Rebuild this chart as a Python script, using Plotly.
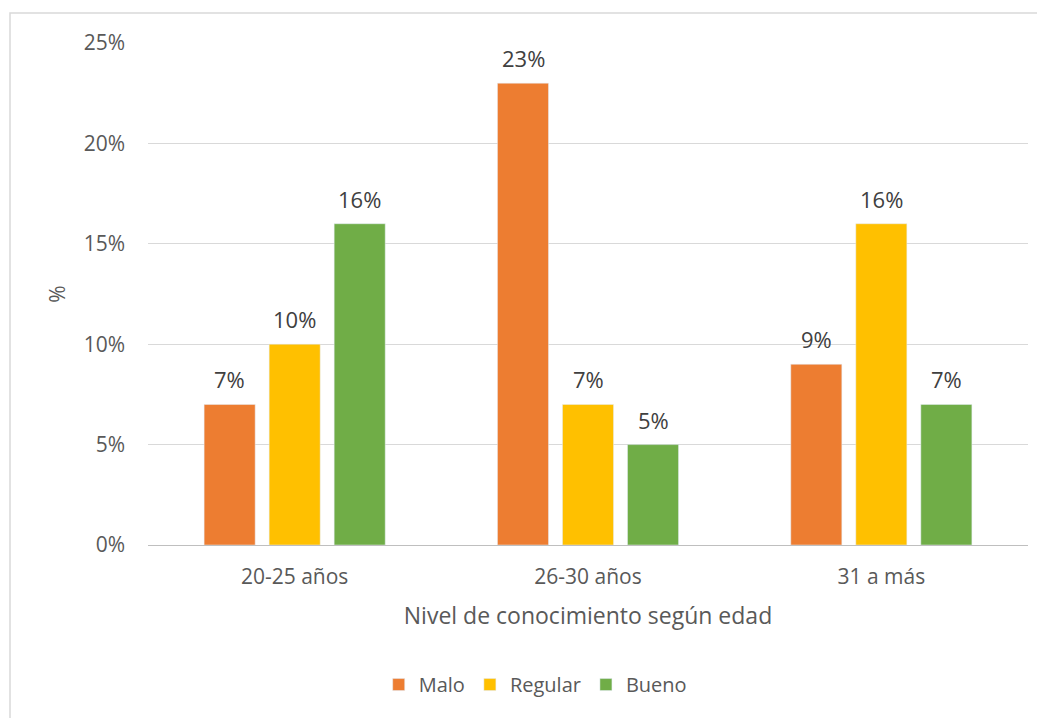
import plotly.graph_objects as go

categories = ["20-25 años", "26-30 años", "31 a más"]
series_names = ["Malo", "Regular", "Bueno"]
malo = [7, 23, 9]
regular = [10, 7, 16]
bueno = [16, 5, 7]
colors = ["#ED7D31", "#FFC000", "#70AD47"]
tick_vals = [0, 5, 10, 15, 20, 25]
tick_text = ["0%", "5%", "10%", "15%", "20%", "25%"]

FONT = "Open Sans, sans-serif"

W, H = 1045, 718
# page has an 8px body margin; positions below are in figure coordinates
L, T = 140, 35
PR, PB = 1020, 537
R, B = W - PR, H - PB
pw, ph = PR - L, PB - T

fig = go.Figure()
for name, vals, col in zip(series_names, [malo, regular, bueno], colors):
    fig.add_trace(go.Bar(name=name, x=categories, y=vals, marker_color=col))

slot = 65
annotations = []
for si, vals in enumerate([malo, regular, bueno]):
    for ci, v in enumerate(vals):
        annotations.append(dict(
            x=categories[ci], y=v, xref="x", yref="y", text=f"{v}%",
            showarrow=False, xshift=(si - 1) * slot, yshift=25,
            font=dict(size=22, color="#404040", family=FONT),
        ))

x0 = (2 - L) / pw
y1 = 1 + (T - 5) / ph

fig.update_layout(
    width=W, height=H,
    margin=dict(l=L, r=R, t=T, b=B),
    plot_bgcolor="white", paper_bgcolor="white",
    barmode="group", bargap=0.335, bargroupgap=0.215,
    font=dict(family=FONT, color="#595959", size=21),
    showlegend=True,
    legend=dict(orientation="h", x=0.44, xanchor="center", y=-0.278, yanchor="middle",
                font=dict(size=20, color="#595959"), itemwidth=30, traceorder="normal"),
    xaxis=dict(showgrid=False, showline=True, linecolor="#BFBFBF", linewidth=1,
               ticks="", ticklabelstandoff=13, tickfont=dict(size=21, color="#595959"),
               title=dict(text="Nivel de conocimiento según edad",
                          font=dict(size=23, color="#595959"), standoff=18)),
    yaxis=dict(range=[0, 25], tickvals=tick_vals, ticktext=tick_text, showgrid=True,
               gridcolor="#D9D9D9", gridwidth=1, zeroline=False, showline=False,
               ticks="", ticklabelstandoff=22, tickfont=dict(size=21, color="#595959"),
               title=dict(text="%", font=dict(size=21, color="#595959"), standoff=12)),
    annotations=annotations,
    shapes=[dict(type="rect", xref="paper", yref="paper", x0=x0, x1=1.2, y0=-0.5, y1=y1,
                 line=dict(color="#D9D9D9", width=1.5), fillcolor="rgba(0,0,0,0)", layer="below")],
)

fig.write_html("out.html")
